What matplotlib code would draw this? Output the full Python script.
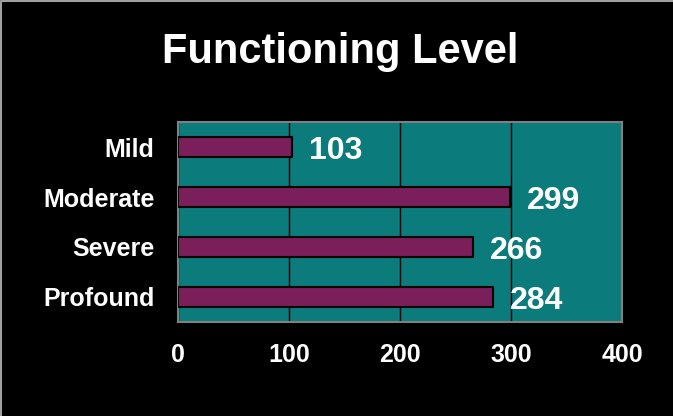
import matplotlib
matplotlib.use("Agg")
import matplotlib.pyplot as plt
from matplotlib.lines import Line2D

categories = ["Mild", "Moderate", "Severe", "Profound"]
counts = [103, 299, 266, 284]
xticks = [0, 100, 200, 300, 400]

plt.rcParams["font.family"] = ["Liberation Sans", "DejaVu Sans"]

fig = plt.figure(figsize=(6.73, 4.16), dpi=100, facecolor="black")
# thin grey edge on top and left only, like the slide grab
fig.lines.append(Line2D([0.001, 0.001, 1], [0, 0.998, 0.998], transform=fig.transFigure,
                        color="#a0a0a0", linewidth=1.5))
ax = fig.add_axes([0.2645, 0.226, 0.6597, 0.4807])
ax.set_facecolor("#0b7b7b")

ypos = list(range(len(categories)))
ax.barh(ypos, counts, height=0.4, color="#7b1f5b", edgecolor="black", linewidth=1.5, zorder=3)

for y, v in zip(ypos, counts):
    ax.annotate(str(v), (v, y), xytext=(12, -8.5), textcoords="offset points",
                va="baseline", ha="left", color="white", fontsize=23, fontweight="bold", zorder=4)

ax.set_xlim(0, 400)
ax.set_ylim(len(categories) - 0.5, -0.5)
ax.set_xticks(xticks)
ax.set_yticks(ypos)
ax.set_yticklabels(categories)
ax.xaxis.grid(True, color="black", linewidth=1)
ax.set_axisbelow(True)
ax.tick_params(axis="both", length=0, colors="white", labelsize=18)
ax.tick_params(axis="x", pad=15)
ax.tick_params(axis="y", pad=17)
for lab in ax.get_xticklabels() + ax.get_yticklabels():
    lab.set_fontweight("bold")
for s in ax.spines.values():
    s.set_color("#808080")
    s.set_linewidth(1.5)

fig.text(0.506, 0.8486, "Functioning Level", ha="center", va="baseline",
         color="white", fontsize=30, fontweight="bold")

fig.savefig("out.png", dpi=100, facecolor="black")
